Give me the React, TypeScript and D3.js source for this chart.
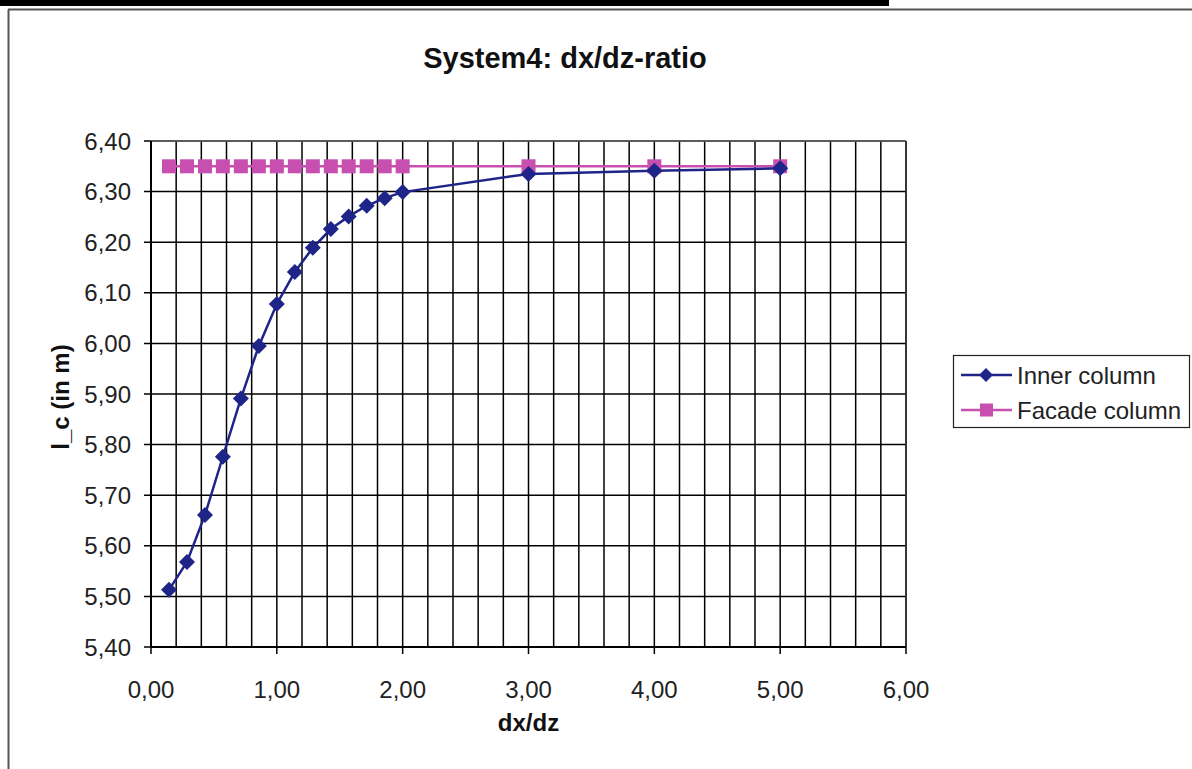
import React from "react";
import * as d3 from "d3";

const ratios = [0.143, 0.286, 0.429, 0.571, 0.714, 0.857, 1.0, 1.143, 1.286, 1.429, 1.571, 1.714, 1.857, 2.0, 3, 4, 5];
const innerColumn = [5.513, 5.568, 5.661, 5.776, 5.891, 5.995, 6.078, 6.141, 6.189, 6.226, 6.251, 6.272, 6.287, 6.299, 6.335, 6.341, 6.346];
const facadeColumn = [6.35, 6.35, 6.35, 6.35, 6.35, 6.35, 6.35, 6.35, 6.35, 6.35, 6.35, 6.35, 6.35, 6.35, 6.35, 6.35, 6.35];
const xMajorTicks = [0, 1, 2, 3, 4, 5, 6];
const yTicks = [5.4, 5.5, 5.6, 5.7, 5.8, 5.9, 6.0, 6.1, 6.2, 6.3, 6.4];
const seriesNames = ["Inner column", "Facade column"];

const NAVY = "#1f2488";
const PINK = "#c64fb0";
const FONT = "'Liberation Sans', Arial, sans-serif";

export default function App() {
  const W = 1192, H = 769;
  const x = d3.scaleLinear().domain([0, 6]).range([151, 906]);
  const y = d3.scaleLinear().domain([5.4, 6.4]).range([647, 141]);
  const fmt = (v: number) => d3.format(".2f")(v).replace(".", ",");
  const minorX = d3.range(0, 31).map((i) => i * 0.2);

  const line = d3.line<number>().x((_, i) => x(ratios[i])).y((d) => y(d));
  const diamond = (cx: number, cy: number, r: number) =>
    `M${cx},${cy - r}L${cx + r},${cy}L${cx},${cy + r}L${cx - r},${cy}Z`;

  const [x0, x1] = x.range();
  const [y0, y1] = y.range();

  return (
    <svg width={W} height={H} style={{ position: "absolute", left: 0, top: 0, background: "#fff" }}>
      <rect x={0} y={0} width={W} height={H} fill="#fff" />
      {/* top black bar */}
      <rect x={0} y={0} width={889} height={6} fill="#000" />
      {/* chart frame */}
      <line x1={8.5} y1={9.5} x2={8.5} y2={H} stroke="#555" strokeWidth={2} />
      <line x1={8} y1={9.5} x2={W} y2={9.5} stroke="#555" strokeWidth={2} />

      {/* title */}
      <text x={565} y={68} textAnchor="middle" fontFamily={FONT} fontWeight="bold" fontSize={29} fill="#111">
        System4: dx/dz-ratio
      </text>

      {/* gridlines */}
      {minorX.map((v, i) => (
        <line key={"vx" + i} x1={x(v)} x2={x(v)} y1={y1} y2={y0} stroke="#000" strokeWidth={1.5} />
      ))}
      {yTicks.map((v, i) => (
        <line key={"hy" + i} x1={x0 - 7} x2={x1} y1={y(v)} y2={y(v)} stroke="#000" strokeWidth={1.5} />
      ))}
      <line x1={x0} x2={x1} y1={y1} y2={y1} stroke="#666" strokeWidth={1.5} />
      <line x1={x1} x2={x1} y1={y1} y2={y0} stroke="#333" strokeWidth={1.5} />
      {/* axes */}
      <line x1={x0} x2={x0} y1={y1} y2={y0} stroke="#000" strokeWidth={2} />
      <line x1={x0} x2={x1} y1={y0} y2={y0} stroke="#000" strokeWidth={2} />
      {xMajorTicks.map((v, i) => (
        <line key={"xt" + i} x1={x(v)} x2={x(v)} y1={y0} y2={y0 + 7} stroke="#000" strokeWidth={1.5} />
      ))}

      {/* tick labels */}
      {yTicks.map((v, i) => (
        <text key={"yl" + i} x={131} y={y(v) + 8.5} textAnchor="end" fontFamily={FONT} fontSize={24} fill="#222">
          {fmt(v)}
        </text>
      ))}
      {xMajorTicks.map((v, i) => (
        <text key={"xl" + i} x={x(v)} y={698} textAnchor="middle" fontFamily={FONT} fontSize={24} fill="#222">
          {fmt(v)}
        </text>
      ))}

      {/* axis titles */}
      <text x={(x0 + x1) / 2} y={731} textAnchor="middle" fontFamily={FONT} fontWeight="bold" fontSize={24} fill="#111">
        dx/dz
      </text>
      <text transform={`translate(69,397) rotate(-90)`} textAnchor="middle" fontFamily={FONT} fontWeight="bold" fontSize={24} fill="#111">
        l_c (in m)
      </text>

      {/* series */}
      <path d={line(facadeColumn) || ""} fill="none" stroke={PINK} strokeWidth={2.5} />
      {facadeColumn.map((v, i) => (
        <rect key={"fm" + i} x={x(ratios[i]) - 7} y={y(v) - 7} width={14} height={14} fill={PINK} />
      ))}
      <path d={line(innerColumn) || ""} fill="none" stroke={NAVY} strokeWidth={2.5} />
      {innerColumn.map((v, i) => (
        <path key={"im" + i} d={diamond(x(ratios[i]), y(v), 8)} fill={NAVY} />
      ))}

      {/* legend */}
      <rect x={953.5} y={355.5} width={236} height={72} fill="#fff" stroke="#222" strokeWidth={1.2} />
      <line x1={961} x2={1012} y1={375} y2={375} stroke={NAVY} strokeWidth={2.5} />
      <path d={diamond(986, 375, 7)} fill={NAVY} />
      <text x={1017} y={383.5} fontFamily={FONT} fontSize={24} fill="#222">{seriesNames[0]}</text>
      <line x1={961} x2={1012} y1={410} y2={410} stroke={PINK} strokeWidth={2.5} />
      <rect x={980} y={403.5} width={13} height={13} fill={PINK} />
      <text x={1017} y={418.5} fontFamily={FONT} fontSize={24} fill="#222">{seriesNames[1]}</text>
    </svg>
  );
}
